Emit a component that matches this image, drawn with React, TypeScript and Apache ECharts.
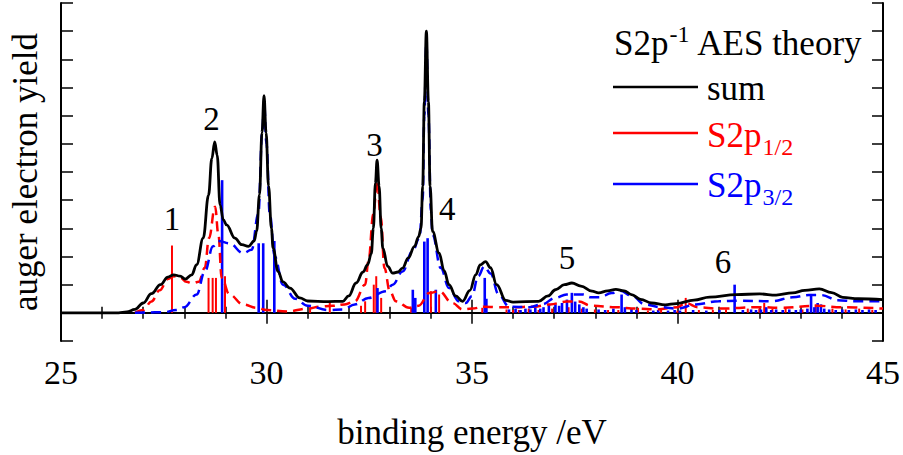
import React, { useEffect, useRef } from "react";
import * as echarts from "echarts";

// ---------- data (binding energy eV, yield in arbitrary tick units) ----------
const sumCurve: [number, number][] = [
  [25.0, 0], [26.4, 0], [26.6, 0.03], [26.8, 0.12], [27.0, 0.35], [27.2, 0.68], [27.42, 1.0],
  [27.6, 1.27], [27.74, 1.35], [27.9, 1.3], [28.02, 1.2], [28.18, 1.35], [28.3, 1.71],
  [28.46, 2.65], [28.59, 4.18], [28.67, 5.48], [28.74, 6.07], [28.8, 5.6], [28.87, 3.83],
  [28.95, 3.3], [29.03, 3.12], [29.23, 2.65], [29.4, 2.42], [29.56, 2.36], [29.7, 2.55],
  [29.76, 2.9], [29.83, 4.2], [29.89, 6.4], [29.94, 7.71], [29.99, 6.4], [30.05, 4.5],
  [30.12, 3.0], [30.16, 2.3], [30.28, 1.47], [30.4, 1.1], [30.57, 0.88], [30.81, 0.53],
  [31.0, 0.42], [31.5, 0.4], [31.86, 0.41], [32.0, 0.6], [32.18, 1.06], [32.35, 1.45],
  [32.46, 1.71], [32.55, 2.1], [32.6, 3.0], [32.65, 4.6], [32.69, 5.42], [32.74, 4.5],
  [32.79, 3.0], [32.83, 2.3], [32.95, 1.65], [33.07, 1.41], [33.2, 1.45], [33.31, 1.59],
  [33.45, 1.95], [33.6, 2.36], [33.7, 2.7], [33.76, 3.0], [33.8, 4.5], [33.84, 7.5],
  [33.89, 10.0], [33.94, 7.5], [33.98, 4.5], [34.04, 2.89], [34.2, 2.12], [34.32, 1.5],
  [34.44, 1.0], [34.6, 0.6], [34.77, 0.41], [34.95, 0.8], [35.09, 1.35], [35.2, 1.7],
  [35.33, 1.82], [35.45, 1.6], [35.6, 1.0], [35.82, 0.44], [36.0, 0.38], [36.62, 0.41],
  [36.85, 0.6], [37.03, 0.82], [37.25, 1.0], [37.43, 1.06], [37.65, 0.95], [37.92, 0.77],
  [38.08, 0.71], [38.3, 0.78], [38.5, 0.83], [38.7, 0.78], [38.88, 0.65], [39.1, 0.48],
  [39.37, 0.35], [39.7, 0.28], [39.97, 0.33], [40.4, 0.45], [40.78, 0.56], [41.43, 0.65],
  [42.0, 0.67], [42.4, 0.63], [42.8, 0.71], [43.1, 0.8], [43.45, 0.85], [43.75, 0.72],
  [44.02, 0.55], [44.4, 0.5], [45.0, 0.47],
];

const p12Curve: [number, number][] = [
  [26.8, 0], [27.0, 0.1], [27.2, 0.4], [27.4, 0.8], [27.6, 1.2], [27.75, 1.3], [27.9, 1.25],
  [28.05, 1.1], [28.2, 1.05], [28.35, 1.1], [28.5, 1.6], [28.6, 2.65], [28.75, 3.77],
  [28.83, 2.77], [28.91, 1.24], [29.1, 0.65], [29.43, 0.3], [29.76, 0.18], [30.0, 0.1],
  [30.5, 0.05], [31.0, 0.15], [31.3, 0.22], [31.6, 0.25], [31.9, 0.3], [32.15, 0.41],
  [32.4, 1.0], [32.48, 1.83], [32.6, 3.5], [32.69, 4.7], [32.78, 3.4], [32.87, 1.59],
  [33.0, 0.77], [33.15, 0.41], [33.47, 0.18], [33.7, 0.25], [33.96, 0.7], [34.2, 0.77],
  [34.52, 0.35], [34.77, 0.12], [35.0, 0.15], [35.3, 0.22], [35.6, 0.2], [36.0, 0.2],
  [36.5, 0.22], [36.9, 0.3], [37.3, 0.4], [37.6, 0.4], [37.9, 0.25], [38.5, 0.2],
  [39.0, 0.15], [39.5, 0.12], [40.0, 0.2], [40.2, 0.35], [40.5, 0.2], [41.0, 0.15],
  [42.0, 0.2], [42.5, 0.18], [43.4, 0.25], [44.0, 0.2], [45.0, 0.15],
];

const p32Curve: [number, number][] = [
  [26.8, 0], [27.5, 0.02], [27.8, 0.1], [28.0, 0.2], [28.3, 0.65], [28.5, 1.47], [28.7, 2.36],
  [28.83, 2.55], [29.1, 2.47], [29.43, 2.12], [29.64, 2.24], [29.8, 3.5], [29.9, 6.5],
  [29.94, 7.5], [30.0, 6.0], [30.08, 3.5], [30.2, 2.0], [30.4, 1.0], [30.7, 0.5],
  [31.0, 0.25], [31.5, 0.1], [31.86, 0.12], [32.15, 0.3], [32.48, 0.53], [32.9, 0.77],
  [33.07, 1.0], [33.31, 1.47], [33.55, 2.18], [33.72, 2.65], [33.8, 4.0], [33.84, 7.0],
  [33.89, 9.6], [33.94, 7.0], [34.0, 3.6], [34.04, 2.77], [34.24, 1.59], [34.44, 0.88],
  [34.68, 0.41], [34.85, 0.35], [35.0, 0.6], [35.15, 1.3], [35.3, 1.65], [35.45, 1.4],
  [35.65, 0.65], [35.9, 0.22], [36.4, 0.2], [36.7, 0.3], [37.03, 0.53], [37.3, 0.65],
  [37.7, 0.65], [37.9, 0.55], [38.1, 0.55], [38.4, 0.7], [38.6, 0.78], [38.9, 0.6],
  [39.2, 0.3], [39.6, 0.2], [40.0, 0.15], [40.45, 0.3], [41.0, 0.41], [41.5, 0.43],
  [42.3, 0.41], [42.8, 0.55], [43.2, 0.63], [43.5, 0.63], [43.9, 0.45], [44.3, 0.41],
  [45.0, 0.41],
];

const p12Sticks: [number, number][] = [
  [27.7, 2.39], [28.59, 1.24], [28.69, 1.24], [28.77, 1.24], [28.99, 1.3], [31.06, 0.15],
  [31.54, 0.42], [32.3, 0.25], [32.4, 0.41], [32.61, 1.0], [32.67, 1.3], [32.79, 0.53],
  [33.52, 0.18], [34.0, 0.77], [34.2, 0.65], [35.25, 0.18], [35.84, 0.12], [36.0, 0.1],
  [36.14, 0.1], [36.38, 0.15], [36.62, 0.1], [36.95, 0.15], [37.35, 0.2], [37.67, 0.15],
  [37.99, 0.12], [38.31, 0.1], [38.56, 0.1], [39.04, 0.18], [39.28, 0.08], [39.6, 0.1],
  [40.0, 0.08], [40.2, 0.53], [40.52, 0.1], [40.86, 0.1], [41.18, 0.12], [41.71, 0.15],
  [41.99, 0.15], [42.11, 0.35], [42.31, 0.15], [42.63, 0.2], [43.04, 0.12], [43.36, 0.3],
  [43.77, 0.15], [44.09, 0.12], [44.42, 0.15], [44.74, 0.1],
];

const p32Sticks: [number, number][] = [
  [28.92, 4.71], [29.81, 2.47], [29.92, 2.47], [30.19, 2.55], [32.7, 0.88], [33.56, 0.82],
  [33.62, 0.53], [33.84, 2.53], [33.92, 2.65], [34.12, 0.82], [35.31, 1.24], [35.35, 0.5],
  [35.9, 0.12], [36.06, 0.15], [36.18, 0.1], [36.3, 0.15], [36.42, 0.12], [36.54, 0.2],
  [36.66, 0.15], [36.74, 0.2], [36.87, 0.3], [37.03, 0.3], [37.12, 0.25], [37.19, 0.35],
  [37.31, 0.47], [37.43, 0.71], [37.51, 0.4], [37.61, 0.3], [37.71, 0.2], [37.79, 0.15],
  [38.08, 0.12], [38.24, 0.1], [38.44, 0.15], [38.64, 0.65], [38.72, 0.2], [38.88, 0.15],
  [39.0, 0.1], [39.41, 0.08], [39.53, 0.1], [39.77, 0.08], [39.93, 0.1], [40.06, 0.08],
  [40.38, 0.1], [40.7, 0.08], [41.02, 0.1], [41.39, 1.0], [41.59, 0.1], [41.79, 0.12],
  [41.91, 0.1], [42.03, 0.12], [42.16, 0.2], [42.28, 0.1], [42.4, 0.12], [42.56, 0.1],
  [42.72, 0.12], [42.88, 0.1], [43.0, 0.12], [43.16, 0.15], [43.25, 0.67], [43.33, 0.2],
  [43.41, 0.35], [43.49, 0.3], [43.57, 0.15], [43.69, 0.12], [43.85, 0.1], [44.01, 0.12],
  [44.17, 0.1], [44.34, 0.12], [44.5, 0.1], [44.66, 0.12], [44.82, 0.1],
];

const peakLabels: [number, number, string][] = [
  [27.7, 3.32, "1"], [28.66, 6.88, "2"], [32.63, 5.96, "3"], [34.4, 3.67, "4"],
  [37.31, 1.96, "5"], [41.11, 1.8, "6"],
];

const xTickValues = [25, 30, 35, 40, 45];
const xTitle = "binding energy /eV";
const yTitle = "auger electron yield";

const SERIF = "Liberation Serif";

function stickSeries(name: string, data: [number, number][], color: string, width: number, z: number) {
  return {
    type: "custom",
    name,
    data,
    z,
    encode: { x: 0, y: 1 },
    renderItem: (_p: any, api: any) => {
      const x = api.value(0);
      const h = api.value(1);
      const a = api.coord([x, 0]);
      const b = api.coord([x, h]);
      return {
        type: "line",
        shape: { x1: a[0], y1: a[1], x2: b[0], y2: b[1] },
        style: { stroke: color, lineWidth: width },
      };
    },
  };
}

export default function App() {
  const ref = useRef<HTMLDivElement>(null);
  useEffect(() => {
    document.body.style.margin = "0";
    const chart = echarts.init(ref.current!, null, { renderer: "svg" });

    const ctx = document.createElement("canvas").getContext("2d")!;
    const measure = (t: string, fs: number) => {
      ctx.font = `${fs}px "Liberation Serif"`;
      return ctx.measureText(t).width;
    };
    const FS = 35;
    const SFS = 24;
    const mid = (baseline: number, fs: number) => baseline - 0.3375 * fs;

    const txt = (x: number, baseline: number, text: string, fs: number, color: string) => ({
      type: "text",
      x,
      y: mid(baseline, fs),
      style: { text, fill: color, fontFamily: SERIF, fontSize: fs, verticalAlign: "middle", align: "left" },
      z: 100,
    });

    const legendX = 614;
    const titleBase = 55;
    const w1 = measure("S2p", FS);
    const w2 = measure("-1", SFS);
    const textX = 707;
    const wS = measure("S2p", FS);

    const graphic: any[] = [
      txt(legendX, titleBase, "S2p", FS, "#000"),
      txt(legendX + w1 + 1, titleBase - 13, "-1", SFS, "#000"),
      txt(legendX + w1 + w2 + 2, titleBase, " AES theory", FS, "#000"),
      { type: "line", shape: { x1: 613, y1: 87, x2: 698, y2: 87 }, style: { stroke: "#000", lineWidth: 2.5 }, z: 100 },
      { type: "line", shape: { x1: 613, y1: 133, x2: 698, y2: 133 }, style: { stroke: "#ff0000", lineWidth: 2.5 }, z: 100 },
      { type: "line", shape: { x1: 613, y1: 184, x2: 698, y2: 184 }, style: { stroke: "#0000ff", lineWidth: 2.5 }, z: 100 },
      txt(textX, 100, "sum", FS, "#000"),
      txt(textX, 147, "S2p", FS, "#ff0000"),
      txt(textX + wS + 1, 155, "1/2", SFS, "#ff0000"),
      txt(textX, 197, "S2p", FS, "#0000ff"),
      txt(textX + wS + 1, 205, "3/2", SFS, "#0000ff"),
    ];

    const axisCommon = {
      type: "value",
      min: 25,
      max: 45,
      interval: 5,
      axisLine: { show: true, lineStyle: { color: "#000", width: 2 } },
      splitLine: { show: false },
    };

    const option: any = {
      animation: false,
      backgroundColor: "#fff",
      textStyle: { fontFamily: SERIF, color: "#000" },
      grid: { left: 57, right: 19, top: 3, bottom: 112, containLabel: false },
      xAxis: [
        {
          ...axisCommon,
          position: "bottom",
          name: xTitle,
          nameLocation: "middle",
          nameGap: 74,
          nameTextStyle: { fontFamily: SERIF, fontSize: 35, color: "#000" },
          axisTick: { show: true, inside: true, length: 13, lineStyle: { color: "#000", width: 1.5 } },
          minorTick: { show: true, splitNumber: 5, length: 6, lineStyle: { color: "#000", width: 1.5 } },
          axisLabel: {
            show: true,
            margin: 14,
            fontFamily: SERIF,
            fontSize: 34,
            color: "#000",
            customValues: xTickValues,
          },
        },
        {
          ...axisCommon,
          position: "top",
          axisTick: { show: true, inside: true, length: 11, lineStyle: { color: "#000", width: 1.5 } },
          minorTick: { show: true, splitNumber: 5, length: 6, lineStyle: { color: "#000", width: 1.5 } },
          axisLabel: { show: false },
        },
      ],
      yAxis: [
        {
          type: "value",
          min: -1,
          max: 11,
          interval: 1,
          position: "left",
          name: yTitle,
          nameLocation: "middle",
          nameGap: 18,
          nameTextStyle: { fontFamily: SERIF, fontSize: 35, color: "#000" },
          axisLine: { show: true, lineStyle: { color: "#000", width: 2 } },
          axisTick: { show: true, inside: true, length: 12, lineStyle: { color: "#000", width: 1.5 } },
          axisLabel: { show: false },
          splitLine: { show: false },
        },
        {
          type: "value",
          min: -1,
          max: 11,
          interval: 1,
          position: "right",
          axisLine: { show: true, lineStyle: { color: "#000", width: 2 } },
          axisTick: { show: true, inside: true, length: 11, lineStyle: { color: "#000", width: 1.5 } },
          axisLabel: { show: false },
          splitLine: { show: false },
        },
      ],
      series: [
        stickSeries("S2p1/2 lines", p12Sticks, "#ff0000", 2, 2),
        stickSeries("S2p3/2 lines", p32Sticks, "#0000ff", 2.6, 3),
        {
          type: "line",
          name: "S2p1/2",
          data: p12Curve,
          showSymbol: false,
          smooth: 0.4,
          smoothMonotone: "x",
          z: 4,
          lineStyle: { color: "#ff0000", width: 2.5, type: [10, 6] },
        },
        {
          type: "line",
          name: "S2p3/2",
          data: p32Curve,
          showSymbol: false,
          smooth: 0.4,
          smoothMonotone: "x",
          z: 5,
          lineStyle: { color: "#0000ff", width: 2.5, type: [10, 6] },
        },
        {
          type: "line",
          name: "sum",
          data: sumCurve,
          showSymbol: false,
          smooth: 0.4,
          smoothMonotone: "x",
          z: 6,
          lineStyle: { color: "#000", width: 2.8 },
        },
        {
          type: "scatter",
          name: "peaks",
          data: peakLabels.map((d) => ({ value: [d[0], d[1]], name: d[2] })),
          symbolSize: 1,
          itemStyle: { opacity: 0 },
          z: 7,
          label: {
            show: true,
            position: "inside",
            formatter: (p: any) => p.name,
            fontFamily: SERIF,
            fontSize: 33,
            color: "#000",
            opacity: 1,
          },
          emphasis: { disabled: true },
        },
      ],
      graphic,
    };
    chart.setOption(option);
    return () => chart.dispose();
  }, []);
  return <div ref={ref} style={{ width: 903, height: 455 }} />;
}
